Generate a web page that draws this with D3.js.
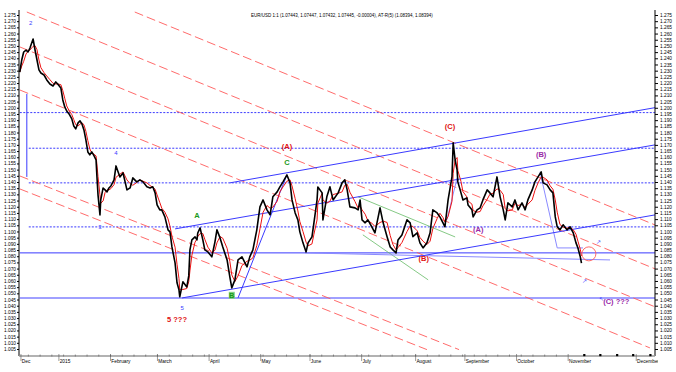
<!DOCTYPE html>
<html><head><meta charset="utf-8">
<script src="https://cdn.jsdelivr.net/npm/d3@7"></script>
<style>body{margin:0;background:#fff}svg{display:block}text{font-family:"Liberation Sans",Arial,sans-serif}</style>
</head><body><svg id="c" width="676" height="372"></svg>
<script>
// ---- data (4-hour bar index from 1 Jan 2015, EUR/USD price) ----
const barIdx = [-100,-95,-90,-84,-79,-74,-66,-61,-56,-51,-46,-38,-31,-23,-15,-8,-3,5,10,15,20,26,33,38,43,49,54,59,64,69,74,79,84,90,95,97,100,105,107,113,118,123,128,133,141,146,156,164,174,182,189,199,207,215,225,233,240,246,251,258,263,271,279,284,289,297,302,307,309,317,327,332,335,340,348,353,355,361,368,373,381,391,399,404,412,419,430,437,442,450,458,468,481,488,496,506,514,522,532,540,547,558,565,573,583,591,596,604,611,616,624,632,637,647,652,660,662,673,675,685,693,701,714,724,731,737,744,757,765,770,775,783,790,800,808,821,829,839,847,854,862,867,877,890,898,905,916,923,931,941,949,956,967,974,982,987,995,1005,1008,1013,1018,1020,1028,1033,1043,1046,1056,1059,1069,1077,1084,1095,1102,1110,1120,1128,1136,1141,1148,1159,1166,1174,1184,1192,1199,1210,1217,1225,1233,1238,1248,1256,1263,1269,1274,1281,1289,1299,1307,1315,1322,1327,1333,1336];
const closes = [1.2289,1.2386,1.2451,1.2467,1.2451,1.2483,1.2556,1.2467,1.2386,1.2306,1.2281,1.2265,1.2225,1.2192,1.2176,1.2209,1.2192,1.2160,1.2063,1.2007,1.1974,1.1950,1.1910,1.1853,1.1829,1.1878,1.1894,1.1869,1.1821,1.1740,1.1643,1.1619,1.1643,1.1611,1.1578,1.1457,1.1296,1.1134,1.1255,1.1352,1.1336,1.1320,1.1352,1.1368,1.1417,1.1530,1.1441,1.1473,1.1336,1.1352,1.1433,1.1401,1.1417,1.1401,1.1361,1.1352,1.1361,1.1312,1.1215,1.1175,1.1175,1.1118,1.1013,1.0997,1.0875,1.0746,1.0585,1.0528,1.0472,1.0593,1.0552,1.0641,1.0851,1.0932,1.0956,1.0932,1.0988,1.1029,1.0932,1.0851,1.0835,1.0795,1.0916,1.1013,1.0948,1.0875,1.0770,1.0633,1.0544,1.0609,1.0770,1.0795,1.0714,1.0795,1.0851,1.1013,1.1199,1.1255,1.1175,1.1134,1.1280,1.1320,1.1361,1.1401,1.1457,1.1393,1.1255,1.1150,1.1094,1.0997,1.0908,1.0835,1.0908,1.0956,1.1070,1.1255,1.1360,1.1312,1.1094,1.1280,1.1361,1.1255,1.1312,1.1393,1.1417,1.1336,1.1199,1.1191,1.1175,1.1255,1.1094,1.1070,1.1094,1.1038,1.0989,1.1191,1.1070,1.0958,1.0875,1.0851,1.0827,1.0932,1.0972,1.1094,1.1070,1.0958,1.0989,1.0908,1.0867,1.0908,1.0989,1.1175,1.1150,1.1118,1.1070,1.1038,1.1255,1.1441,1.1716,1.1578,1.1498,1.1401,1.1312,1.1255,1.1272,1.1215,1.1175,1.1118,1.1175,1.1191,1.1255,1.1336,1.1312,1.1280,1.1441,1.1280,1.1175,1.1094,1.1231,1.1199,1.1255,1.1175,1.1231,1.1175,1.1255,1.1336,1.1401,1.1441,1.1482,1.1393,1.1377,1.1336,1.1312,1.1118,1.1038,1.1013,1.1054,1.1013,1.1038,1.0989,1.0908,1.0867,1.0795,1.0744];

const monthLabels = ["Dec","2015","February","March","April","May","June","July","August","September","October","November","December"];
const monthBars   = [-97,0,132,252,384,516,642,774,912,1038,1170,1302,1476];
const futureTicks = [1343,1384,1427,1468,1512];
const priceTop = 1.275, priceBottom = 1.005, priceStep = 0.005;

// trend / channel lines [bar, price]
const redLines = [
  [[194,1.2774],[1524,1.1053]],
  [[-82,1.2774],[1524,1.0698]],
  [[-100,1.2492],[1524,1.0391]],
  [[-100,1.2144],[1511,1.0059]],
  [[-100,1.1449],[1023,1.0045]],
  [[-100,1.1344],[941,1.0045]]
];
const blueLines = [
  [[437,1.1393],[1524,1.2001]],
  [[297,1.1021],[1524,1.1700]],
  [[315,1.0463],[1524,1.1134]],
  [[458,1.0463],[583,1.1457]],
  [[-82,1.2112],[-82,1.1441]]
];
const lightBlueLines = [
  [[629,1.0827],[1409,1.0770]],
  [[1230,1.1482],[1274,1.0867],[1340,1.0867]],
  [[992,1.1094],[1018,1.1433]]
];
const greenLines = [
  [[765,1.1280],[1013,1.0956]],
  [[777,1.0973],[944,1.0609]]
];
const hLevels = [1.1961,1.1673,1.1393,1.1037,1.0827,1.0463];
const hStart  = [-100,-77,-77,-77,-100,-100];
const hStyle  = ["dot","dot","dot","dot","solid","light"];

const labels = [
  {t:"5 ???", b:302, v:1.0286, c:"#e01010"},
  {t:"A", b:353, v:1.1126, c:"#1a9a1a"},
  {t:"B", b:442, v:1.0480, c:"#1a9a1a", box:true},
  {t:"C", b:583, v:1.1554, c:"#1a9a1a"},
  {t:"(A)", b:583, v:1.1683, c:"#e01010"},
  {t:"(C)", b:1000, v:1.1845, c:"#e01010"},
  {t:"(B)", b:1233, v:1.1619, c:"#9a2aa8"},
  {t:"(A)", b:1072, v:1.1013, c:"#9a2aa8"},
  {t:"(B)", b:933, v:1.0778, c:"#e01010"},
  {t:"(C) ???", b:1425, v:1.0431, c:"#9a2aa8"}
];
const smallMarks = [
  {t:"2", b:-72, v:1.2688}, {t:"4", b:146, v:1.1635}, {t:"3", b:105, v:1.1033},
  {t:"5", b:315, v:1.0378}, {t:"\u2197", b:1379, v:1.0917}, {t:"\u2197", b:1345, v:1.0600},
  {t:"\u2196", b:1386, v:1.0455}
];
const circleAt = {b:1355, v:1.0819};

// ---- drawing ----
const svg = d3.select("#c");
const L = 19, R = 655, T = 10, B = 356;
const x = d3.scaleLinear().domain([-102, 1524]).range([L, R]);
const y = d3.scaleLinear().domain([priceBottom, priceTop]).range([349, 15]);

svg.append("defs").append("clipPath").attr("id","clip")
  .append("rect").attr("x",L).attr("y",T).attr("width",R-L).attr("height",B-T);
const plot = svg.append("g").attr("clip-path","url(#clip)");
const line = d3.line().x(d=>x(d[0])).y(d=>y(d[1]));

hLevels.forEach((v,i)=>{
  const st = hStyle[i];
  plot.append("line").attr("x1",x(hStart[i])).attr("x2",R).attr("y1",y(v)).attr("y2",y(v))
    .attr("stroke", st==="light" ? "#a0a0ff" : "#3a3aff")
    .attr("stroke-width", st==="light" ? 2 : 1)
    .attr("stroke-dasharray", st==="dot" ? "2,1.5" : null);
});
redLines.forEach(p=>plot.append("path").attr("d",line(p)).attr("fill","none")
  .attr("stroke","#ff5a5a").attr("stroke-width",0.9).attr("stroke-dasharray","9,4"));
greenLines.forEach(p=>plot.append("path").attr("d",line(p)).attr("fill","none")
  .attr("stroke","#66bb66").attr("stroke-width",0.8));
lightBlueLines.forEach(p=>plot.append("path").attr("d",line(p)).attr("fill","none")
  .attr("stroke","#8a8aff").attr("stroke-width",1));
blueLines.forEach(p=>plot.append("path").attr("d",line(p)).attr("fill","none")
  .attr("stroke","#3a3aff").attr("stroke-width",1));

// price
const pts = barIdx.map((b,i)=>[b,closes[i]]);
const avg = pts.map((d,i)=>{
  const s = closes.slice(Math.max(0,i-2), i+1);
  return [d[0], d3.mean(s)];
});
plot.append("path").attr("d",line(avg)).attr("fill","none").attr("stroke","#ee1111").attr("stroke-width",1);
plot.append("path").attr("d",line(pts)).attr("fill","none").attr("stroke","#000").attr("stroke-width",1.6).attr("stroke-linejoin","round");

plot.append("circle").attr("cx",x(circleAt.b)).attr("cy",y(circleAt.v)).attr("r",7)
  .attr("fill","none").attr("stroke","#ff5a5a").attr("stroke-width",0.9);

labels.forEach(d=>{
  if(d.box){
    plot.append("rect").attr("x",x(d.b)-3).attr("y",y(d.v)-4).attr("width",6).attr("height",7).attr("fill","#7fd07f");
  }
  plot.append("text").attr("x",x(d.b)).attr("y",y(d.v)+2.5).attr("text-anchor","middle")
    .attr("font-size",7.5).attr("font-weight","bold").attr("fill",d.c).text(d.t);
});
smallMarks.forEach(d=>plot.append("text").attr("x",x(d.b)).attr("y",y(d.v)+2).attr("text-anchor","middle")
  .attr("font-size",6).attr("fill","#3a3aff").text(d.t));

// y axes
const yTicks = d3.range(0, Math.round((priceTop-priceBottom)/priceStep)+1).map(i=>+(priceTop - i*priceStep).toFixed(3));
const fmt = d3.format(".3f");
const axL = d3.axisLeft(y).tickValues(yTicks).tickFormat(fmt).tickSize(2).tickPadding(1);
const axR = d3.axisRight(y).tickValues(yTicks).tickFormat(fmt).tickSize(3).tickPadding(2);
const gL = svg.append("g").attr("transform",`translate(${L},0)`).call(axL);
const gR = svg.append("g").attr("transform",`translate(${R},0)`).call(axR);
[gL,gR].forEach(g=>{
  g.select(".domain").attr("d",`M0,${T}V${B}`).attr("stroke","#000");
  g.selectAll("text").attr("font-size",4.8).attr("font-family","Liberation Sans, Arial");
  g.selectAll("line").attr("stroke","#000");
});

// x axis
const gx = svg.append("g");
gx.append("line").attr("x1",L).attr("x2",R).attr("y1",B).attr("y2",B).attr("stroke","#999").attr("stroke-width",1.5);
const weekly = d3.range(12-150, 1302, 30);
gx.selectAll(".wk").data(weekly.filter(b=>x(b)>=L)).join("line")
  .attr("x1",d=>x(d)).attr("x2",d=>x(d)).attr("y1",B-1.5).attr("y2",B+0.5).attr("stroke","#555").attr("stroke-width",0.6);
gx.selectAll(".mt").data(monthBars).join("line")
  .attr("x1",d=>x(d)).attr("x2",d=>x(d)).attr("y1",B-2).attr("y2",B+5).attr("stroke","#555").attr("stroke-width",0.6);
gx.selectAll(".ft").data(futureTicks).join("rect")
  .attr("x",d=>x(d)-1).attr("y",B-2).attr("width",2.2).attr("height",2.2).attr("fill","#000");
svg.append("defs").append("clipPath").attr("id","clipx").append("rect").attr("x",0).attr("y",B).attr("width",R+3).attr("height",20);
gx.append("g").attr("clip-path","url(#clipx)").selectAll("text").data(monthLabels).join("text")
  .attr("x",(d,i)=>x(monthBars[i])+0.8).attr("y",B+7).attr("font-size",4.8).attr("fill","#000").text(d=>d);

svg.append("text").attr("x",251).attr("y",17).attr("font-size",4.5).attr("fill","#000")
  .text("EUR/USD 1:1 (1.07443, 1.07447, 1.07432, 1.07445, -0.00004), AT-R(5) (1.08394, 1.08394)");
</script></body></html>
